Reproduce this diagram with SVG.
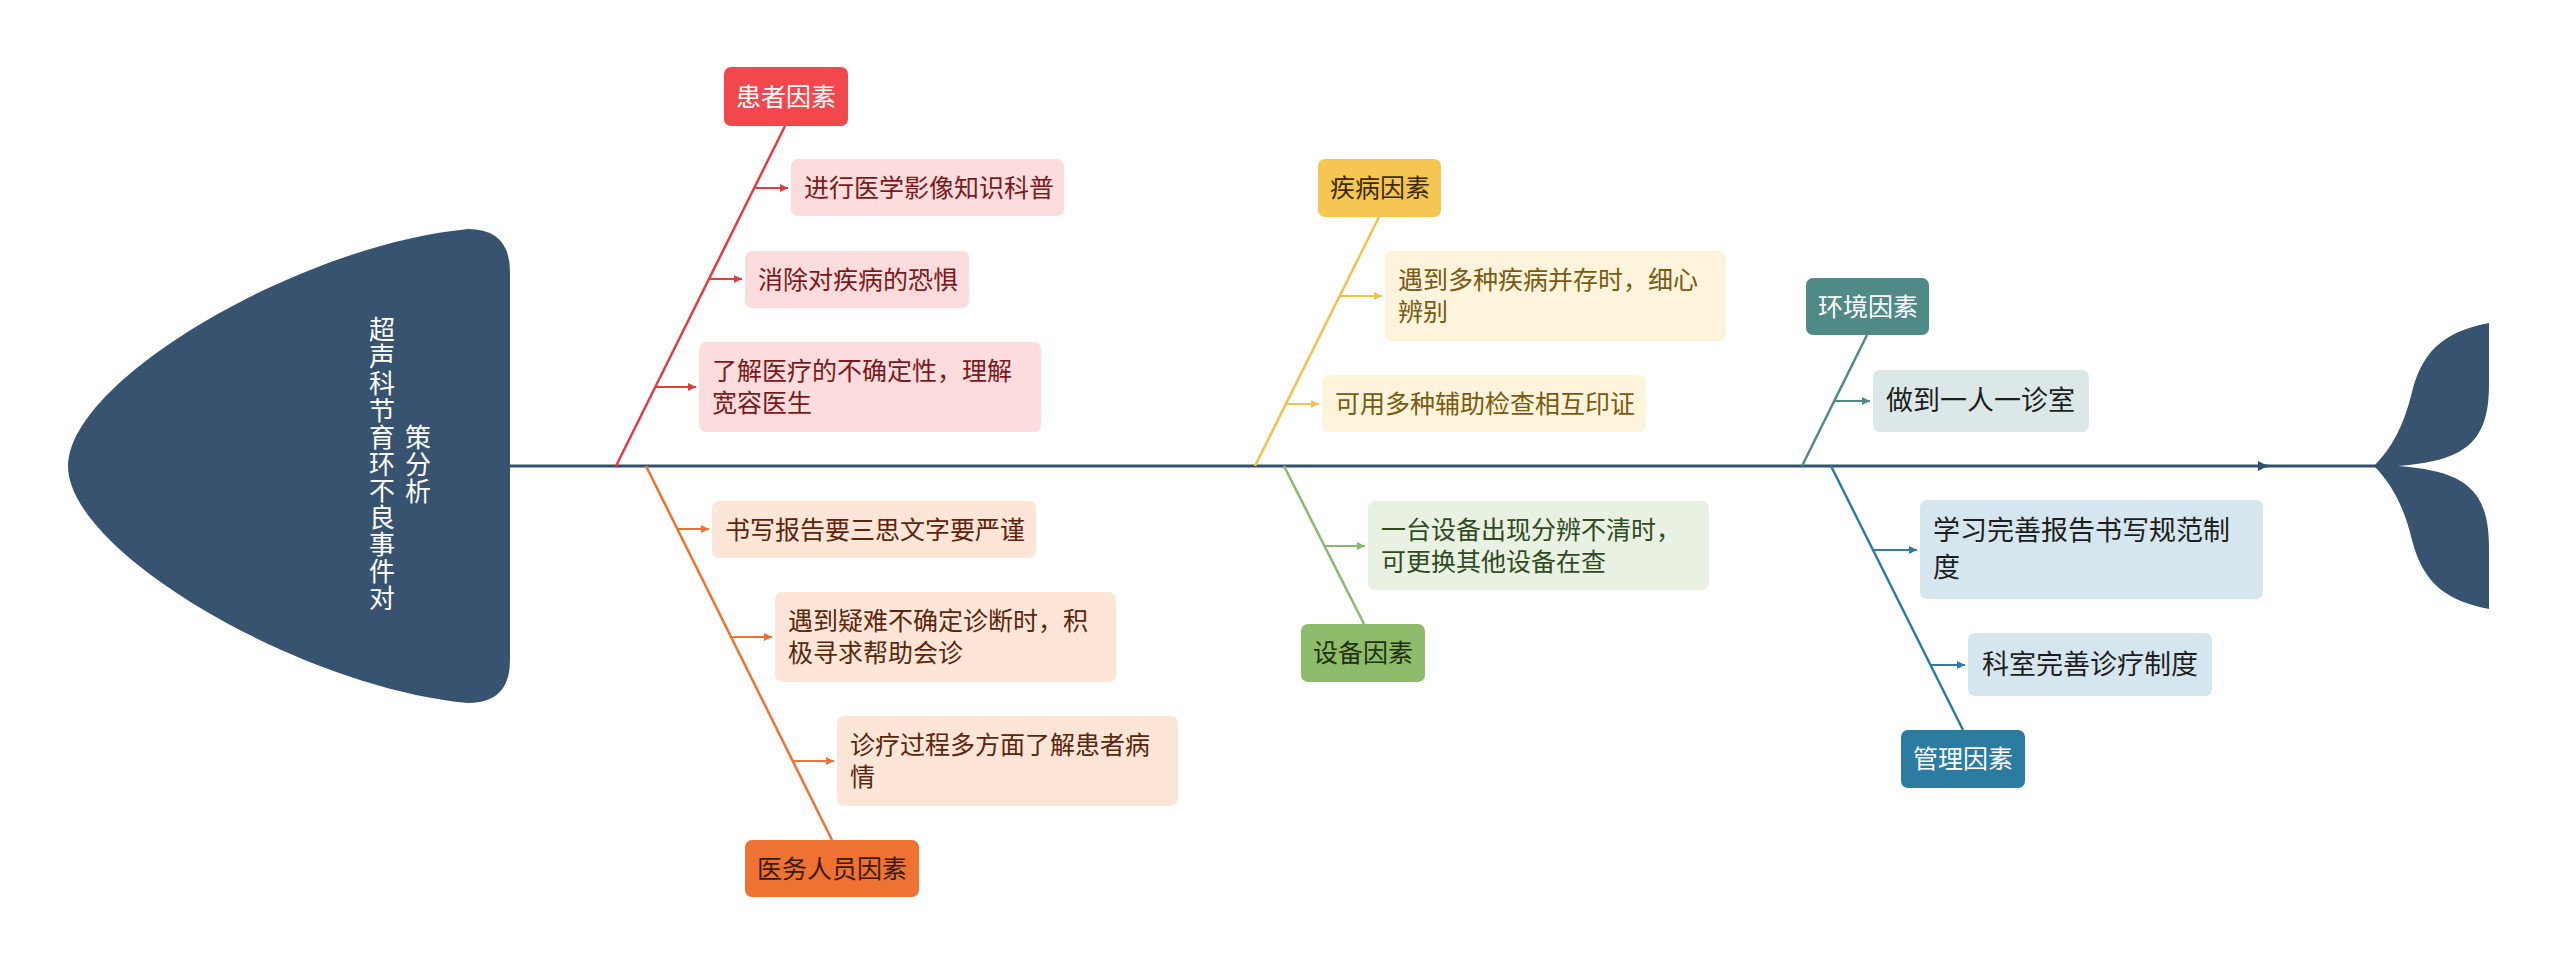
<svg xmlns="http://www.w3.org/2000/svg" width="2560" height="966" viewBox="0 0 2560 966">
<defs>
<style>
text{font-family:"Liberation Sans","Noto Sans CJK SC",sans-serif;dominant-baseline:central}
.cat{font-size:25px;text-anchor:middle}
.leaf{font-size:25px}
.leafb{font-size:27px}
.ln{fill:none;stroke-width:2.5}
.ar{fill:none;stroke-width:2}
</style>
<marker id="mR" markerUnits="userSpaceOnUse" markerWidth="9" markerHeight="8" refX="8" refY="4" orient="auto"><path d="M0,0 L8,4 L0,8 z" fill="#E23B40"/></marker>
<marker id="mO" markerUnits="userSpaceOnUse" markerWidth="9" markerHeight="8" refX="8" refY="4" orient="auto"><path d="M0,0 L8,4 L0,8 z" fill="#EE7231"/></marker>
<marker id="mY" markerUnits="userSpaceOnUse" markerWidth="9" markerHeight="8" refX="8" refY="4" orient="auto"><path d="M0,0 L8,4 L0,8 z" fill="#F2C14E"/></marker>
<marker id="mG" markerUnits="userSpaceOnUse" markerWidth="9" markerHeight="8" refX="8" refY="4" orient="auto"><path d="M0,0 L8,4 L0,8 z" fill="#8BB86A"/></marker>
<marker id="mT" markerUnits="userSpaceOnUse" markerWidth="9" markerHeight="8" refX="8" refY="4" orient="auto"><path d="M0,0 L8,4 L0,8 z" fill="#4F8A87"/></marker>
<marker id="mB" markerUnits="userSpaceOnUse" markerWidth="9" markerHeight="8" refX="8" refY="4" orient="auto"><path d="M0,0 L8,4 L0,8 z" fill="#2B7CA0"/></marker>
<marker id="mS" markerUnits="userSpaceOnUse" markerWidth="11" markerHeight="10" refX="10" refY="5" orient="auto"><path d="M0,0 L10,5 L0,10 z" fill="#34506E"/></marker>
</defs>
<rect width="2560" height="966" fill="#ffffff"/>

<g id="fish-head">
<path d="M468,229 C300,245 68,380 68,466 C68,552 300,687 468,703 Q510,703 510,660 L510,272 Q510,229 468,229 Z" fill="#38536F"/>
<text font-size="26" fill="#ffffff" text-anchor="middle"><tspan x="382" y="330">超</tspan><tspan x="382" y="357">声</tspan><tspan x="382" y="384">科</tspan><tspan x="382" y="411">节</tspan><tspan x="382" y="438">育</tspan><tspan x="382" y="465">环</tspan><tspan x="382" y="491">不</tspan><tspan x="382" y="518">良</tspan><tspan x="382" y="545">事</tspan><tspan x="382" y="572">件</tspan><tspan x="382" y="599">对</tspan></text>
<text font-size="26" fill="#ffffff" text-anchor="middle"><tspan x="418" y="438">策</tspan><tspan x="418" y="465">分</tspan><tspan x="418" y="492">析</tspan></text>
</g>

<g id="fish-tail">
<path d="M2374,466 C2392,448 2404,425 2412,392 C2424,345 2450,331 2489,323 L2489,385 C2489,445 2462,461 2398,466 C2462,471 2489,487 2489,547 L2489,609 C2450,601 2424,587 2412,540 C2404,507 2392,484 2374,466 Z" fill="#38536F"/>
</g>

<g id="connectors">
<path d="M510,466 L2268,466" stroke="#34506E" stroke-width="3" fill="none" marker-end="url(#mS)"/>
<path d="M2262,466 L2376,466" stroke="#34506E" stroke-width="3" fill="none"/>
<line class="ln" x1="785" y1="126" x2="616" y2="466" stroke="#E23B40"/>
<line class="ar" x1="754" y1="188" x2="788" y2="188" stroke="#E23B40" marker-end="url(#mR)"/>
<line class="ar" x1="709" y1="279" x2="742" y2="279" stroke="#E23B40" marker-end="url(#mR)"/>
<line class="ar" x1="655" y1="387" x2="696" y2="387" stroke="#E23B40" marker-end="url(#mR)"/>
<line class="ln" x1="646" y1="466" x2="832" y2="840" stroke="#EE7231"/>
<line class="ar" x1="677" y1="529" x2="709" y2="529" stroke="#EE7231" marker-end="url(#mO)"/>
<line class="ar" x1="731" y1="637" x2="772" y2="637" stroke="#EE7231" marker-end="url(#mO)"/>
<line class="ar" x1="793" y1="761" x2="834" y2="761" stroke="#EE7231" marker-end="url(#mO)"/>
<line class="ln" x1="1379" y1="217" x2="1255" y2="466" stroke="#F2C14E"/>
<line class="ar" x1="1340" y1="296" x2="1382" y2="296" stroke="#F2C14E" marker-end="url(#mY)"/>
<line class="ar" x1="1286" y1="404" x2="1319" y2="404" stroke="#F2C14E" marker-end="url(#mY)"/>
<line class="ln" x1="1284" y1="466" x2="1364" y2="624" stroke="#8BB86A"/>
<line class="ar" x1="1325" y1="546" x2="1365" y2="546" stroke="#8BB86A" marker-end="url(#mG)"/>
<line class="ln" x1="1867" y1="335" x2="1802" y2="466" stroke="#4F8A87"/>
<line class="ar" x1="1834" y1="401" x2="1870" y2="401" stroke="#4F8A87" marker-end="url(#mT)"/>
<line class="ln" x1="1831" y1="466" x2="1963" y2="730" stroke="#2B7CA0"/>
<line class="ar" x1="1873" y1="550" x2="1917" y2="550" stroke="#2B7CA0" marker-end="url(#mB)"/>
<line class="ar" x1="1931" y1="665" x2="1965" y2="665" stroke="#2B7CA0" marker-end="url(#mB)"/>
</g>

<g id="cat-patient"><rect x="724" y="67" width="124" height="59" rx="7" fill="#F2474C"/><text class="cat" x="786" y="97" fill="#ffffff">患者因素</text></g>
<g id="cat-staff"><rect x="745" y="840" width="174" height="57" rx="7" fill="#EE7231"/><text class="cat" x="832" y="869" fill="#3A1A08">医务人员因素</text></g>
<g id="cat-disease"><rect x="1318" y="159" width="123" height="58" rx="7" fill="#F6C653"/><text class="cat" x="1380" y="188" fill="#3D2B00">疾病因素</text></g>
<g id="cat-equip"><rect x="1301" y="624" width="124" height="58" rx="7" fill="#8FBC6B"/><text class="cat" x="1363" y="653" fill="#1F3010">设备因素</text></g>
<g id="cat-env"><rect x="1806" y="278" width="123" height="57" rx="7" fill="#4F8A87"/><text class="cat" x="1868" y="307" fill="#ffffff">环境因素</text></g>
<g id="cat-mgmt"><rect x="1901" y="730" width="124" height="58" rx="7" fill="#2B7CA0"/><text class="cat" x="1963" y="759" fill="#ffffff">管理因素</text></g>

<g id="leaf-p1"><rect x="791" y="159" width="273" height="57" rx="7" fill="#FCDCDD"/><text class="leaf" x="804" y="188" fill="#7A1A1A">进行医学影像知识科普</text></g>
<g id="leaf-p2"><rect x="745" y="251" width="224" height="57" rx="7" fill="#FCDCDD"/><text class="leaf" x="758" y="280" fill="#7A1A1A">消除对疾病的恐惧</text></g>
<g id="leaf-p3"><rect x="699" y="342" width="342" height="90" rx="7" fill="#FCDCDD"/><text class="leaf" fill="#7A1A1A"><tspan x="712" y="371">了解医疗的不确定性，理解</tspan><tspan x="712" y="403">宽容医生</tspan></text></g>

<g id="leaf-s1"><rect x="712" y="501" width="324" height="57" rx="7" fill="#FDE5D7"/><text class="leaf" x="725" y="530" fill="#5C260C">书写报告要三思文字要严谨</text></g>
<g id="leaf-s2"><rect x="775" y="592" width="341" height="90" rx="7" fill="#FDE5D7"/><text class="leaf" fill="#5C260C"><tspan x="788" y="621">遇到疑难不确定诊断时，积</tspan><tspan x="788" y="653">极寻求帮助会诊</tspan></text></g>
<g id="leaf-s3"><rect x="837" y="716" width="341" height="90" rx="7" fill="#FDE5D7"/><text class="leaf" fill="#5C260C"><tspan x="850" y="745">诊疗过程多方面了解患者病</tspan><tspan x="850" y="777">情</tspan></text></g>

<g id="leaf-d1"><rect x="1385" y="251" width="341" height="90" rx="7" fill="#FEF3DB"/><text class="leaf" fill="#7A5A10"><tspan x="1398" y="280">遇到多种疾病并存时，细心</tspan><tspan x="1398" y="312">辨别</tspan></text></g>
<g id="leaf-d2"><rect x="1322" y="375" width="324" height="57" rx="7" fill="#FEF3DB"/><text class="leaf" x="1335" y="404" fill="#7A5A10">可用多种辅助检查相互印证</text></g>

<g id="leaf-e1"><rect x="1368" y="501" width="341" height="89" rx="7" fill="#E9F1E2"/><text class="leaf" fill="#2E4A1E"><tspan x="1381" y="530">一台设备出现分辨不清时，</tspan><tspan x="1381" y="562">可更换其他设备在查</tspan></text></g>

<g id="leaf-v1"><rect x="1873" y="370" width="216" height="62" rx="7" fill="#DCE8E7"/><text class="leafb" x="1886" y="401" fill="#1E1E1E">做到一人一诊室</text></g>

<g id="leaf-m1"><rect x="1920" y="500" width="343" height="99" rx="7" fill="#D6E6EE"/><text class="leafb" fill="#1E1E1E"><tspan x="1933" y="531">学习完善报告书写规范制</tspan><tspan x="1933" y="568">度</tspan></text></g>
<g id="leaf-m2"><rect x="1968" y="633" width="244" height="63" rx="7" fill="#D6E6EE"/><text class="leafb" x="1982" y="665" fill="#1E1E1E">科室完善诊疗制度</text></g>
</svg>
